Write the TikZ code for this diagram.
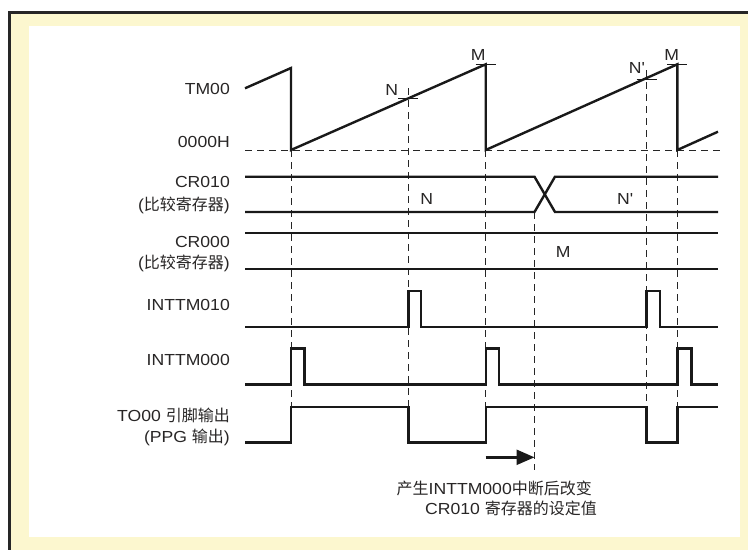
\documentclass[tikz,border=0pt]{standalone}
\usepackage{fontspec}
\setmainfont{Liberation Sans}[FakeStretch=1.1]
\newfontfamily\cjk{Noto Sans CJK SC}
\usetikzlibrary{arrows.meta}
\definecolor{frameyellow}{RGB}{252,247,207}
\definecolor{txt}{RGB}{40,38,38}
\tikzset{
 sig/.style={line width=2.4pt, line join=miter, black!90},
 guide/.style={line width=0.9pt, dash pattern=on 7pt off 5pt, black!85},
 tickmark/.style={line width=0.9pt, black!90},
 lbl/.style={font=\fontsize{16}{19}\selectfont, text=txt, inner sep=0pt},
}
\begin{document}
\begin{tikzpicture}[x=1pt,y=-1pt]
\useasboundingbox (0,0) rectangle (748,550);
% frame
\fill[black!85] (8,11) rectangle (748,550);
\fill[frameyellow] (11,13.5) rectangle (748,550);
\fill[white] (29,26) rectangle (740,537);

% guides
\draw[guide] (245,150) -- (720,150);
\draw[guide] (291,150) -- (291,406.7);
\draw[guide] (408.3,88) -- (408.3,442.3);
\draw[guide] (485.7,150) -- (485.7,406.7);
\draw[guide] (534.5,212) -- (534.5,470);
\draw[guide] (646.5,70) -- (646.5,442.3);
\draw[guide] (677.3,150) -- (677.3,406.7);

% TM00 ramp
\draw[sig] (245,88.3) -- (291,68) -- (291,150) -- (485.7,64.3) -- (485.7,150) -- (677.3,64.3) -- (677.3,150) -- (718,131.7);
\draw[tickmark] (398.3,98.4) -- (418.3,98.4);
\draw[tickmark] (475.7,64.3) -- (495.7,64.3);
\draw[tickmark] (636.5,79) -- (656.5,79);
\draw[tickmark] (667.3,64.3) -- (687.3,64.3);

% CR010
\draw[sig] (245,176.7) -- (534.5,176.7) -- (555,212) -- (718,212);
\draw[sig] (245,212) -- (534.5,212) -- (555,176.7) -- (718,176.7);
% CR000
\draw[sig] (245,232.7) -- (718,232.7);
\draw[sig] (245,268.7) -- (718,268.7);

% INTTM010
\draw[sig] (245,326.7) -- (408.3,326.7) -- (408.3,291) -- (421,291) -- (421,326.7) -- (646.5,326.7) -- (646.5,291) -- (660,291) -- (660,326.7) -- (718,326.7);
% INTTM000
\draw[sig] (245,384.3) -- (291,384.3) -- (291,348.3) -- (304.5,348.3) -- (304.5,384.3) -- (485.7,384.3) -- (485.7,348.3) -- (498.7,348.3) -- (498.7,384.3) -- (677.3,384.3) -- (677.3,348.3) -- (691.3,348.3) -- (691.3,384.3) -- (718,384.3);
% TO00
\draw[sig] (245,442.3) -- (291,442.3) -- (291,406.7) -- (408.3,406.7) -- (408.3,442.3) -- (485.7,442.3) -- (485.7,406.7) -- (646.5,406.7) -- (646.5,442.3) -- (677.3,442.3) -- (677.3,406.7) -- (718,406.7);

% arrow
\coordinate (arrS) at (485.7,457.3);
\coordinate (arrE) at (534.5,457.3);
\draw[sig, -{Triangle[length=18pt,width=15pt]}] (arrS) -- (arrE);

% left labels
\node[lbl, anchor=east] (lTM) at (230,89) {TM00};
\node[lbl, anchor=east] (lZero) at (230,142) {0000H};
\node[lbl, anchor=east] (lCR1) at (230,181.7) {CR010};
\node[lbl, anchor=east] (lCR1b) at (230,205) {({\cjk 比较寄存器})};
\node[lbl, anchor=east] (lCR0) at (230,241.7) {CR000};
\node[lbl, anchor=east] (lCR0b) at (230,263.3) {({\cjk 比较寄存器})};
\node[lbl, anchor=east] (lI1) at (230,305) {INTTM010};
\node[lbl, anchor=east] (lI0) at (230,360) {INTTM000};
\node[lbl, anchor=east] (lTO) at (230,415) {TO00 {\cjk 引脚输出}};
\node[lbl, anchor=east] (lPPG) at (230,437) {(PPG {\cjk 输出})};

% value labels
\node[lbl] (vN) at (391.7,90) {N};
\node[lbl] (vM1) at (478.3,55) {M};
\node[lbl] (vNp) at (636.7,68.3) {N\textquotesingle};
\node[lbl] (vM2) at (671.7,55) {M};
\node[lbl] (cN) at (426.7,199.3) {N};
\node[lbl] (cNp) at (625,199.3) {N\textquotesingle};
\node[lbl] (cM) at (563.3,251.7) {M};

% note
\node[lbl, anchor=east] (note1) at (592,488) {{\cjk 产生}INTTM000{\cjk 中断后改变}};
\node[lbl, anchor=east] (note2) at (597,508) {CR010 {\cjk 寄存器的设定值}};
\end{tikzpicture}
\end{document}
